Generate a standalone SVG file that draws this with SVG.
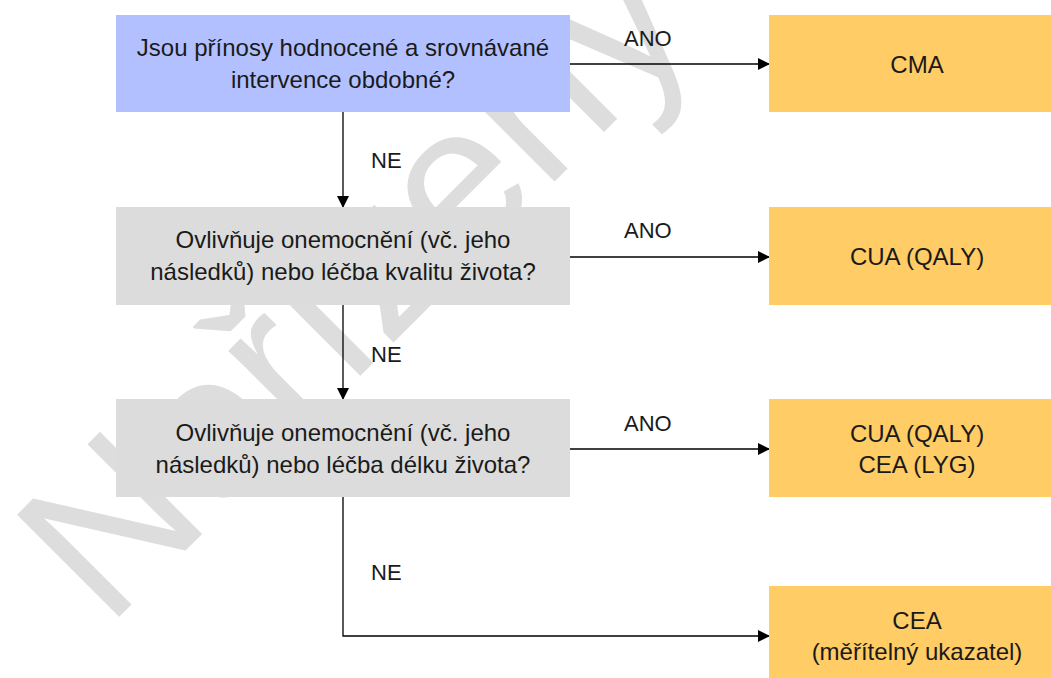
<svg xmlns="http://www.w3.org/2000/svg" width="1051" height="678" viewBox="0 0 1051 678">
<defs>
<marker id="arr" markerWidth="12" markerHeight="12" refX="11" refY="6" orient="auto" markerUnits="userSpaceOnUse">
<path d="M0,0 L12,6 L0,12 Z" fill="#000"/>
</marker>
<style>
.t{font-family:"Liberation Sans",Arial,sans-serif;font-size:24px;fill:#1a1a1a;text-anchor:middle}
.l{font-family:"Liberation Sans",Arial,sans-serif;font-size:22px;fill:#1a1a1a}
.q{fill:#DCDCDC}
.o{fill:#FFCC66}
.c{stroke:#000;stroke-width:1.3;fill:none;marker-end:url(#arr)}
</style>
</defs>
<rect width="1051" height="678" fill="#fff"/>
<text id="watermark" transform="translate(107,629) rotate(-45)" font-family="Liberation Sans, Arial, sans-serif" font-size="210" fill="#DDDDDD">Neřízený</text>
<g id="connectors">
<line class="c" x1="570" y1="64" x2="769" y2="64"/>
<line class="c" x1="570" y1="257" x2="769" y2="257"/>
<line class="c" x1="570" y1="449" x2="769" y2="449"/>
<line class="c" x1="343" y1="112" x2="343" y2="207"/>
<line class="c" x1="343" y1="305" x2="343" y2="399"/>
<polyline class="c" points="343,497 343,636 769,636"/>
<text class="l" x="624" y="46">ANO</text>
<text class="l" x="624" y="238">ANO</text>
<text class="l" x="624" y="431">ANO</text>
<text class="l" x="371" y="168">NE</text>
<text class="l" x="371" y="362">NE</text>
<text class="l" x="371" y="580">NE</text>
</g>
<g id="q1"><rect x="116" y="15" width="454" height="97" fill="#B3C0FF"/><text class="t" x="343" y="56">Jsou přínosy hodnocené a srovnávané</text><text class="t" x="343" y="88">intervence obdobné?</text></g>
<g id="q2"><rect class="q" x="116" y="207" width="454" height="98"/><text class="t" x="343" y="248">Ovlivňuje onemocnění (vč. jeho</text><text class="t" x="343" y="280">následků) nebo léčba kvalitu života?</text></g>
<g id="q3"><rect class="q" x="116" y="399" width="454" height="98"/><text class="t" x="343" y="441">Ovlivňuje onemocnění (vč. jeho</text><text class="t" x="343" y="473">následků) nebo léčba délku života?</text></g>
<g id="r1"><rect class="o" x="769" y="15" width="282" height="97"/><text class="t" x="917" y="73">CMA</text></g>
<g id="r2"><rect class="o" x="769" y="207" width="282" height="98"/><text class="t" x="917" y="265">CUA (QALY)</text></g>
<g id="r3"><rect class="o" x="769" y="399" width="282" height="98"/><text class="t" x="917" y="442">CUA (QALY)</text><text class="t" x="917" y="473">CEA (LYG)</text></g>
<g id="r4"><rect class="o" x="769" y="586" width="282" height="92"/><text class="t" x="917" y="629">CEA</text><text class="t" x="917" y="660">(měřítelný ukazatel)</text></g>
</svg>
